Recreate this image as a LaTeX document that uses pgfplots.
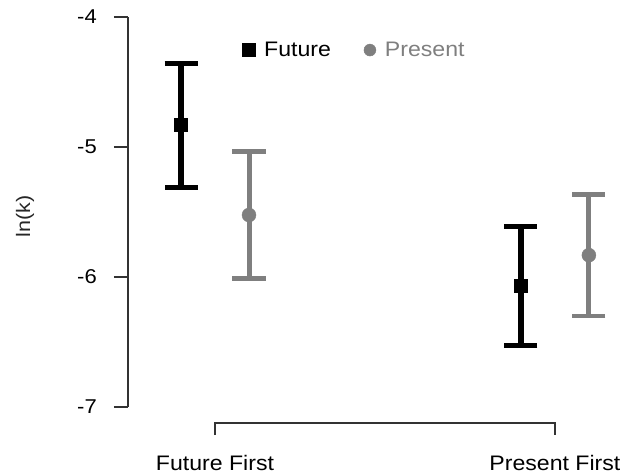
\documentclass[border=0pt]{standalone}
\usepackage{pgfplots}
\pgfplotsset{compat=1.18}
\usepackage{fontspec}
\setmainfont{Liberation Sans}[FakeStretch=1.1]
\definecolor{gr}{HTML}{7F7F7F}
\definecolor{ax}{HTML}{333333}
\begin{document}
\begin{tikzpicture}
\useasboundingbox (-128bp,-52bp) rectangle (498bp,423bp);
\begin{axis}[
  at={(0,0)}, anchor=south west,
  scale only axis, width=484bp, height=413bp,
  xmin=0.744, xmax=2.168, ymin=-7.123, ymax=-3.946,
  axis x line*=bottom, axis y line*=left,
  axis line style={draw=none},
  clip=false,
  xtick={1,2}, xticklabels={Future First, Present First},
  xtick style={draw=none},
  xticklabel style={font=\fontsize{21bp}{24bp}\selectfont, anchor=north, inner sep=0pt, yshift=-18bp},
  ytick={-7,-6,-5,-4},
  tick align=outside, major tick length=14bp,
  ytick style={ax, line width=1.6bp},
  yticklabel style={font=\fontsize{20bp}{22bp}\selectfont, anchor=east, inner sep=0pt, xshift=-17bp},
  yticklabels={-7,-6,-5,-4},
  ylabel={ln(k)},
  ylabel style={font=\fontsize{19.5bp}{22bp}\selectfont, at={(axis description cs:-0.2128,0.5)}, anchor=center, color=black!85},
  legend columns=2,
  legend image code/.code={\draw[#1] plot coordinates {(0,0)};},
  legend style={draw=none, fill=none, inner sep=0pt, at={(axis description cs:0.2355,0.903)}, anchor=west,
    font=\fontsize{21bp}{23bp}\selectfont,
    nodes={inner sep=0pt},
    /tikz/every odd column/.append style={column sep=9bp},
    /tikz/every even column/.append style={column sep=33bp}},
]
\addplot[only marks, mark=square*, mark size=6.5bp, black, forget plot,
  error bars/.cd, y dir=both, y explicit,
  error bar style={line width=5.5bp, black},
  error mark options={line width=5bp, mark size=16.5bp, black, rotate=90}]
  coordinates {(0.9,-4.831) +- (0,0.477) (1.9,-6.070) +- (0,0.458)};
\addplot[only marks, mark=*, mark size=7bp, gr, forget plot,
  error bars/.cd, y dir=both, y explicit,
  error bar style={line width=5bp, gr},
  error mark options={line width=4.5bp, mark size=16.5bp, gr, rotate=90}]
  coordinates {(1.1,-5.523) +- (0,0.487) (2.1,-5.832) +- (0,0.468)};
\addlegendimage{only marks, mark=square*, mark size=6.5bp, black}
\addlegendentry{Future}
\addlegendimage{only marks, mark=*, mark size=6bp, gr}
\addlegendentry{\textcolor{gr}{Present}}
\draw[ax, line width=1.6bp] (axis cs:0.744,-4) -- (axis cs:0.744,-7);
\draw[ax, line width=1.6bp] ([yshift=-12bp]axis cs:1,-7.123) -- (axis cs:1,-7.123) -- (axis cs:2,-7.123) -- ([yshift=-12bp]axis cs:2,-7.123);
\end{axis}
\end{tikzpicture}
\end{document}
